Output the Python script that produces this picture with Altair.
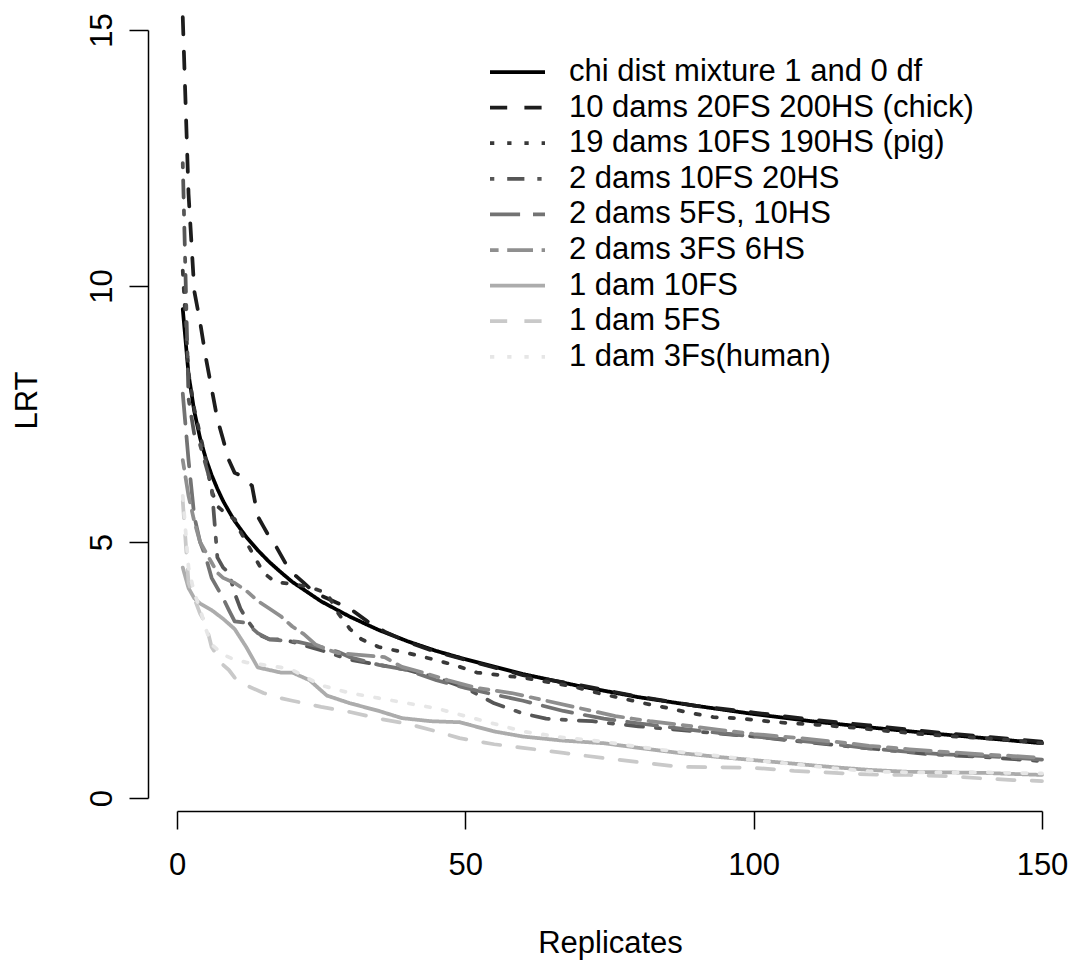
import altair as alt
import pandas as pd

FONT = "Liberation Sans"
FONT_SIZE = 31

series_names = [
    "chi dist mixture 1 and 0 df",
    "10 dams 20FS 200HS (chick)",
    "19 dams 10FS 190HS (pig)",
    "2 dams 10FS 20HS",
    "2 dams 5FS, 10HS",
    "2 dams 3FS 6HS",
    "1 dam 10FS",
    "1 dam 5FS",
    "1 dam 3Fs(human)",
]

# grey level for each series, black to pale grey
series_colors = ["#000000", "#1d1d1d", "#393939", "#565656", "#737373",
                 "#8f8f8f", "#acacac", "#c9c9c9", "#e6e6e6"]

# line types: solid, dashed, dotted, dotdash, longdash, twodash, solid, dashed, dotted
series_dashes = [[1, 0], [17.2, 17.2], [4.3, 12.9], [4.3, 12.9, 17.2, 12.9],
                 [30.1, 12.9], [8.6, 8.6, 25.8, 8.6], [1, 0], [17.2, 17.2],
                 [4.3, 12.9]]

chi_x = [1, 2, 3, 4, 5, 6, 7, 8, 9, 10, 12, 14, 16, 18, 20, 25, 30, 35, 40, 45,
         50, 60, 70, 80, 90, 100, 110, 120, 130, 140, 150]
chi_y = [9.55, 8.28, 7.55, 7.03, 6.63, 6.31, 6.04, 5.80, 5.60, 5.41, 5.10, 4.84,
         4.61, 4.41, 4.22, 3.84, 3.54, 3.28, 3.06, 2.87, 2.71, 2.42, 2.18, 1.97,
         1.80, 1.64, 1.50, 1.38, 1.27, 1.17, 1.07]

chick_x = [1, 2, 3, 4, 5, 6, 7, 8, 9, 10, 11, 12, 13, 14, 15, 16, 17, 18, 19, 20,
           22, 24, 26, 28, 30, 33, 36, 40, 45, 50, 55, 60, 65, 70, 80, 90, 100,
           110, 120, 130, 140, 150]
chick_y = [15.25, 11.8, 9.9, 9.3, 8.6, 8.0, 7.4, 7.0, 6.6, 6.35, 6.3, 6.2, 6.1,
           5.5, 5.3, 5.1, 4.95, 4.75, 4.55, 4.4, 4.2, 4.0, 3.9, 3.8, 3.7, 3.45,
           3.25, 3.05, 2.85, 2.7, 2.55, 2.4, 2.3, 2.2, 1.98, 1.8, 1.67, 1.53,
           1.42, 1.3, 1.2, 1.1]

pig_x = [1, 2, 3, 4, 5, 6, 7, 8, 9, 10, 11, 12, 13, 14, 15, 17, 20, 23, 26, 28,
         30, 32, 35, 40, 44, 48, 52, 56, 60, 65, 69, 73, 77, 81, 85, 89, 93, 98,
         104, 111, 118, 124, 131, 138, 145, 150]
pig_y = [10.3, 8.3, 7.6, 7.1, 6.6, 6.0, 5.7, 5.6, 5.5, 5.45, 5.2, 5.0, 4.8, 4.6,
         4.4, 4.22, 4.18, 4.12, 4.0, 3.6, 3.3, 3.1, 2.95, 2.83, 2.72, 2.6, 2.45,
         2.4, 2.35, 2.25, 2.17, 2.05, 1.95, 1.85, 1.76, 1.66, 1.58, 1.55, 1.48,
         1.43, 1.37, 1.3, 1.23, 1.18, 1.13, 1.07]

d2_10fs_x = [1, 2, 3, 4, 5, 6, 7, 8, 9, 10, 11, 12, 14, 16, 18, 20, 23, 26, 30,
             35, 40, 45, 50, 55, 60, 64, 68, 72, 76, 80, 90, 100, 110, 120, 130,
             140, 150]
d2_10fs_y = [12.4, 7.8, 7.1, 6.9, 6.5, 6.1, 4.7, 4.5, 4.4, 4.0, 3.7, 3.5, 3.2,
             3.1, 3.1, 3.05, 2.95, 2.85, 2.7, 2.6, 2.5, 2.35, 2.15, 1.85, 1.65,
             1.55, 1.52, 1.5, 1.45, 1.4, 1.3, 1.2, 1.08, 0.97, 0.86, 0.8, 0.72]

d2_5fs_x = [1, 2, 3, 4, 5, 6, 8, 9, 10, 12, 14, 16, 18, 21, 25, 28, 30, 35, 40,
            45, 50, 55, 60, 67, 74, 80, 87, 94, 100, 107, 114, 120, 127, 133,
            140, 150]
d2_5fs_y = [7.9, 6.6, 5.5, 5.0, 4.7, 4.3, 3.9, 3.67, 3.45, 3.42, 3.22, 3.1, 3.08,
            3.05, 2.95, 2.85, 2.75, 2.6, 2.5, 2.3, 2.15, 2.02, 1.9, 1.7, 1.55,
            1.46, 1.36, 1.27, 1.2, 1.13, 1.05, 0.97, 0.9, 0.85, 0.82, 0.75]

d2_3fs_x = [1, 2, 3, 4, 5, 6, 7, 8, 10, 12, 14, 16, 18, 20, 22, 24, 26, 28, 31,
            36, 39, 43, 47, 52, 58, 64, 70, 76, 82, 88, 94, 100, 107, 114, 120,
            127, 133, 140, 145, 150]
d2_3fs_y = [6.6, 5.9, 5.4, 5.0, 4.8, 4.6, 4.4, 4.3, 4.2, 4.05, 3.85, 3.7, 3.55,
            3.35, 3.2, 3.0, 2.9, 2.83, 2.8, 2.75, 2.56, 2.44, 2.3, 2.15, 2.05,
            1.9, 1.75, 1.6, 1.5, 1.42, 1.33, 1.25, 1.18, 1.1, 1.02, 0.95, 0.9,
            0.85, 0.82, 0.78]

d1_10fs_x = [1, 2, 3, 4, 6, 8, 10, 12, 14, 16, 18, 20, 23, 26, 30, 35, 39, 44,
             49, 55, 60, 67, 74, 80, 87, 94, 100, 107, 114, 120, 127, 134, 140,
             145, 150]
d1_10fs_y = [4.5, 4.1, 3.9, 3.8, 3.67, 3.5, 3.3, 2.95, 2.55, 2.5, 2.45, 2.45,
             2.3, 2.0, 1.85, 1.7, 1.56, 1.5, 1.48, 1.3, 1.2, 1.12, 1.07, 0.98,
             0.88, 0.8, 0.74, 0.67, 0.6, 0.55, 0.51, 0.5, 0.49, 0.47, 0.45]

d1_5fs_x = [1, 2, 3, 4, 5, 6, 8, 9, 10, 12, 15, 18, 20, 25, 30, 35, 40, 45, 49,
            55, 60, 67, 74, 80, 87, 94, 100, 107, 114, 120, 127, 135, 140, 145,
            150]
d1_5fs_y = [5.8, 4.2, 3.9, 3.6, 3.4, 2.95, 2.6, 2.5, 2.35, 2.2, 2.05, 1.95, 1.9,
            1.78, 1.68, 1.55, 1.45, 1.3, 1.17, 1.05, 0.98, 0.88, 0.78, 0.7, 0.61,
            0.6, 0.59, 0.53, 0.49, 0.46, 0.45, 0.42, 0.38, 0.35, 0.33]

d1_3fs_x = [1, 2, 3, 4, 5, 6, 8, 10, 12, 15, 18, 20, 25, 30, 35, 40, 45, 50, 55,
            60, 67, 74, 80, 87, 94, 100, 107, 114, 120, 127, 134, 140, 145, 150]
d1_3fs_y = [5.9, 4.5, 4.0, 3.7, 3.3, 3.0, 2.8, 2.7, 2.65, 2.6, 2.55, 2.5, 2.2,
            2.05, 1.95, 1.85, 1.75, 1.6, 1.45, 1.3, 1.18, 1.1, 1.0, 0.9, 0.82,
            0.74, 0.66, 0.58, 0.52, 0.5, 0.5, 0.5, 0.49, 0.48]

series_x = [chi_x, chick_x, pig_x, d2_10fs_x, d2_5fs_x, d2_3fs_x,
            d1_10fs_x, d1_5fs_x, d1_3fs_x]
series_y = [chi_y, chick_y, pig_y, d2_10fs_y, d2_5fs_y, d2_3fs_y,
            d1_10fs_y, d1_5fs_y, d1_3fs_y]

records = []
for order, (name, xs, ys) in enumerate(zip(series_names, series_x, series_y)):
    for x, y in zip(xs, ys):
        records.append({"series": name, "order": order, "Replicates": x, "LRT": y})
df = pd.DataFrame(records)

x_ticks = [0, 50, 100, 150]
y_ticks = [0, 5, 10, 15]


def series_legend():
    return alt.Legend(
        orient="none", legendX=311, legendY=27, symbolType="stroke",
        symbolSize=3025, symbolStrokeWidth=3.75, labelFont=FONT,
        labelFontSize=FONT_SIZE, labelColor="black", labelOffset=22,
        clipHeight=30, rowPadding=4.6, padding=0, labelLimit=800,
    )


lines = alt.Chart(df).mark_line(
    strokeWidth=3.75, strokeCap="round", strokeJoin="round"
).encode(
    x=alt.X(
        "Replicates:Q",
        scale=alt.Scale(domain=[0, 150], nice=False, zero=False),
        axis=alt.Axis(
            values=x_ticks, offset=13, tickSize=18, labelPadding=36,
            labelBaseline="middle", labelFlush=False, titleX=433, titleY=132,
            titleBaseline="middle", titleAlign="center",
        ),
    ),
    y=alt.Y(
        "LRT:Q",
        scale=alt.Scale(domain=[0, 15], nice=False),
        axis=alt.Axis(
            values=y_ticks, offset=29, tickSize=19, labelAngle=270,
            labelAlign="center", labelBaseline="middle", labelPadding=27,
            labelFlush=False, titleX=-121, titleY=370, titleBaseline="middle",
            titleAlign="center", titleAngle=270,
        ),
    ),
    color=alt.Color(
        "series:N",
        scale=alt.Scale(domain=series_names, range=series_colors),
        title=None,
        legend=series_legend(),
    ),
    strokeDash=alt.StrokeDash(
        "series:N",
        scale=alt.Scale(domain=series_names, range=series_dashes),
        title=None,
        legend=series_legend(),
    ),
    order="order:Q",
)

chart = lines.properties(
    width=865,
    height=768,
    autosize=alt.AutoSizeParams(type="none"),
    padding={"left": 177, "top": 30, "right": 31, "bottom": 162},
    background="white",
).configure_view(
    stroke=None,
).configure_axis(
    grid=False,
    domainColor="black",
    domainWidth=1.5,
    tickColor="black",
    tickWidth=1.5,
    labelFont=FONT,
    labelFontSize=FONT_SIZE,
    labelColor="black",
    titleFont=FONT,
    titleFontSize=FONT_SIZE,
    titleFontWeight="normal",
    titleColor="black",
)

chart.save("out.html", embed_options={"renderer": "svg", "actions": False})
